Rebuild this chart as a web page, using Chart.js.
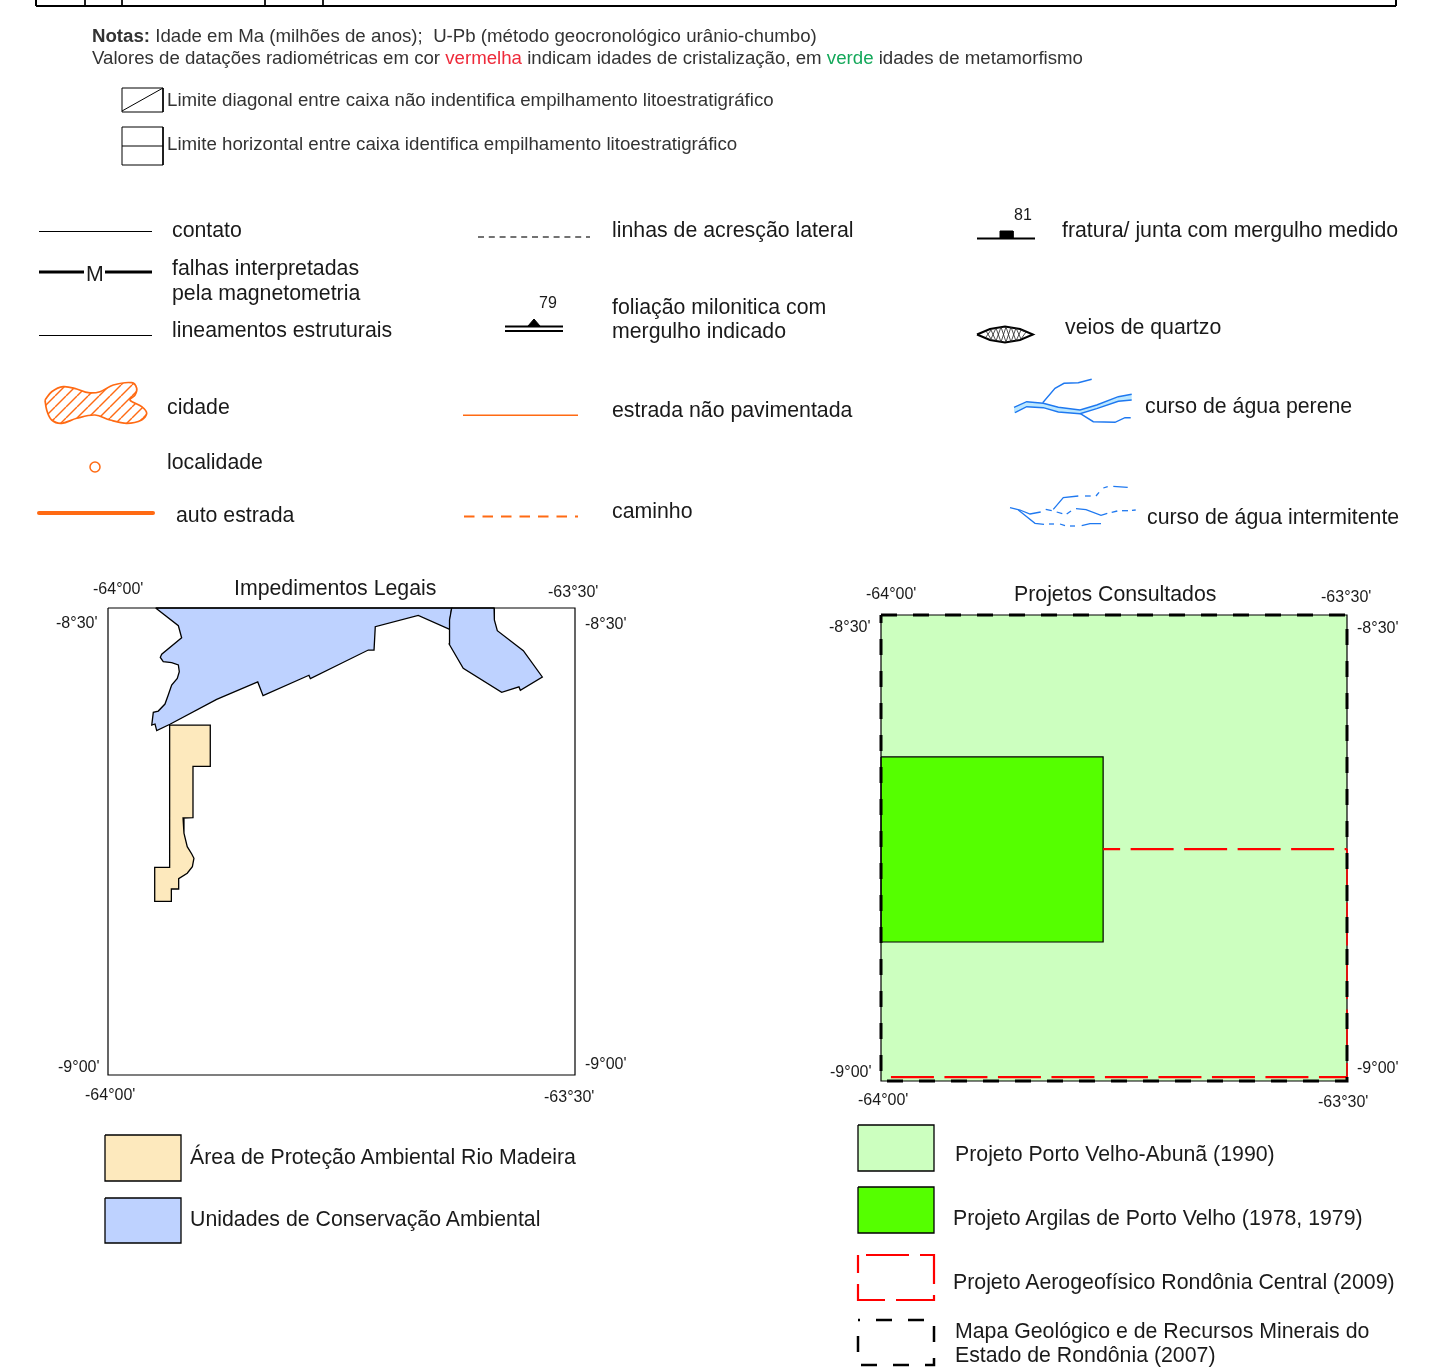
<!DOCTYPE html>
<html>
<head>
<meta charset="utf-8">
<title>Legenda</title>
<script src="https://cdn.jsdelivr.net/npm/chart.js@4"></script>
<style>
html, body { margin: 0; padding: 0; background: #fff; }
#page { position: relative; width: 1450px; height: 1369px; overflow: hidden; font-family: "Liberation Sans", Arial, sans-serif; color: #1a1a1a; }
canvas { position: absolute; }
.t { position: absolute; white-space: nowrap; line-height: 1; transform: translateY(-50%); }
</style>
</head>
<body>
<div id="page">
  <canvas id="sheet" width="1450" height="1369" style="left:0;top:0"></canvas>
  <canvas id="mapLeft" width="487" height="487" style="left:98px;top:598px"></canvas>
  <canvas id="mapRight" width="486" height="486" style="left:871px;top:605px"></canvas>
</div>
<script>
// map outlines, [minutes east of 64W, minutes south of 8S30]
var ucaWest = [[3.06,0],[4.52,1.14],[4.73,1.91],[3.45,2.97],[3.36,3.17],[3.55,3.45],[4.09,3.51],[4.52,3.66],[4.58,4.09],[4.45,4.52],[4.09,4.95],[3.87,5.59],[3.66,6.17],[3.23,6.62],[2.91,6.70],[2.81,7.52],[3.02,7.45],[3.13,7.88],[3.98,7.47],[6.98,5.87],[9.62,4.75],[9.96,5.63],[12.91,4.32],[13.0,4.54],[14.9,3.6],[16.72,2.7],[17.09,2.7],[17.17,1.2],[19.93,0.47],[21.91,1.35],[21.97,0.77],[22.08,0]];
var ucaEast = [[22.08,0],[24.8,0],[24.82,0.77],[25.01,1.46],[26.68,2.74],[27.9,4.43],[26.49,5.29],[26.4,5.07],[25.29,5.42],[22.82,3.87],[21.92,2.33],[21.91,1.35],[21.97,0.77]];
var apaMadeira = [[3.96,7.52],[6.57,7.52],[6.57,10.17],[5.46,10.17],[5.46,13.47],[4.82,13.49],[4.88,14.47],[5.09,15.33],[5.38,15.8],[5.52,16.08],[5.42,16.62],[5.09,17.04],[4.54,17.39],[4.54,18.05],[4.07,18.05],[4.07,18.84],[3.0,18.84],[3.0,16.66],[3.96,16.66]];
var mapFrame = [[0,0],[30,0],[30,30],[0,30]];
var argilas = [[0,9.14],[14.3,9.14],[14.3,21.05],[0,21.05]];
var aeroLine1 = [[14.3,15.07],[30,15.07]];
var aeroLine2 = [[0.64,29.75],[30,29.75]];
var aeroLine3 = [[30,15.07],[30,29.75]];

// sheet symbols
var cidade = [[45,400],[51.7,391.7],[63.3,386.7],[76.7,389],[88.3,392.7],[100,391.7],[113.3,385],[131.7,382.7],[136.7,388.3],[135,395],[130,400],[141.7,406.7],[146.7,413.3],[141.7,420],[126.7,423.3],[110,420],[95,415],[76.7,418.3],[61.7,423.3],[51.7,420],[46.7,410]];
var margemNorte = [[1014,407.3],[1026.7,401.7],[1043.3,403.3],[1058.3,407.3],[1080,410],[1096.7,405],[1118.3,396.7],[1131.7,394.3]];
var margemSul = [[1015,412.7],[1026.7,406.7],[1043.3,407.7],[1058.3,412],[1080,413.7],[1096.7,408.7],[1118.3,401.3],[1131.7,400]];
var afluentes = [
  [[1042.7,402.7],[1055,388.3],[1064,383.3],[1078.3,382.7],[1091.7,379.3]],
  [[1080,413.3],[1093.3,421.7],[1115,422.3],[1125,417.7],[1130.7,417.7]]
];
var intermitente = [
  [[1010,507.7],[1020,510],[1030,514],[1040.7,512]],
  [[1018.3,510],[1035,523.3],[1044,524.3]],
  [[1049,524],[1054,524]],
  [[1060,524],[1065,525.7]],
  [[1070,526],[1075,526]],
  [[1081.7,525.7],[1090,523.7],[1101,523.7]],
  [[1045.7,509.3],[1051.7,510.7]],
  [[1053.3,509.3],[1063.3,497.7],[1078.3,496]],
  [[1085,496],[1090.7,496]],
  [[1096,496],[1099,492.3]],
  [[1103.3,488],[1107.7,486.7]],
  [[1113.3,486.3],[1127.7,487.3]],
  [[1056.7,512],[1062.3,513.7]],
  [[1066.7,514],[1071,511]],
  [[1076,508.7],[1086,509.7],[1101,515.3],[1107.3,513.3]],
  [[1111.7,512.3],[1117.3,511]],
  [[1122,510.7],[1128,510.7]],
  [[1132,510.3],[1135.7,510]]
];
var veioContorno = [[977,334.5],[990,329],[1005,326.5],[1020,329],[1033,334.5],[1020,340],[1005,342.5],[990,340]];
var veioTrama = [[986,331],[991,339],[996,328],[1001,342],[1006,327],[1011,342],[1016,328],[1021,339],[1026,332],[1021,330],[1016,341],[1011,327],[1006,342],[1001,327],[996,341],[991,330],[986,337]];
var tickRows = [85,122,265,323];

// [text, x, y centre, size]
var labels = [
  ["Limite diagonal entre caixa não indentifica empilhamento litoestratigráfico",167,100,18.7,"#333"],
  ["Limite horizontal entre caixa identifica empilhamento litoestratigráfico",167,144,18.7,"#333"],
  ["contato",172,231,21.3],
  ["falhas interpretadas",172,269,21.3],
  ["pela magnetometria",172,294,21.3],
  ["lineamentos estruturais",172,331,21.3],
  ["cidade",167,408,21.3],
  ["localidade",167,463,21.3],
  ["auto estrada",176,516,21.3],
  ["M",86,275,21.3],
  ["linhas de acresção lateral",612,231,21.3],
  ["79",539,303,16],
  ["foliação milonitica com",612,308,21.3],
  ["mergulho indicado",612,332,21.3],
  ["estrada não pavimentada",612,411,21.3],
  ["caminho",612,512,21.3],
  ["81",1014,215,16],
  ["fratura/ junta com mergulho medido",1062,231,21.3],
  ["veios de quartzo",1065,328,21.3],
  ["curso de água perene",1145,407,21.3],
  ["curso de água intermitente",1147,518,21.3],
  ["Impedimentos Legais",234,589,21.3],
  ["Projetos Consultados",1014,595,21.3],
  ["Área de Proteção Ambiental Rio Madeira",190,1158,21.3],
  ["Unidades de Conservação Ambiental",190,1220,21.3],
  ["Projeto Porto Velho-Abunã (1990)",955,1155,21.3],
  ["Projeto Argilas de Porto Velho (1978, 1979)",953,1219,21.3],
  ["Projeto Aerogeofísico Rondônia Central (2009)",953,1283,21.3],
  ["Mapa Geológico e de Recursos Minerais do",955,1332,21.3],
  ["Estado de Rondônia (2007)",955,1356,21.3]
];
var coordLabels = [
  ["-64°00'",93,588],["-63°30'",548,591],["-8°30'",56,622],["-8°30'",585,623],["-9°00'",58,1066],["-9°00'",585,1063],["-64°00'",85,1094],["-63°30'",544,1096],
  ["-64°00'",866,593],["-63°30'",1321,596],["-8°30'",829,626],["-8°30'",1357,627],["-9°00'",830,1071],["-9°00'",1357,1067],["-64°00'",858,1099],["-63°30'",1318,1101]
];

var page = document.getElementById("page");
function addText(txt, x, y, size, color) {
  var el = document.createElement("div");
  el.className = "t";
  el.style.left = x + "px";
  el.style.top = y + "px";
  el.style.fontSize = size + "px";
  if (color) el.style.color = color;
  el.innerHTML = txt;
  page.appendChild(el);
}
labels.forEach(function (l) { addText(l[0], l[1], l[2], l[3], l[4]); });
coordLabels.forEach(function (l) { addText(l[0], l[1], l[2] + 0.5, 16); });
addText('<b>Notas:</b> Idade em Ma (milhões de anos);&nbsp; U-Pb (método geocronológico urânio-chumbo)', 92, 36, 18.66, "#333");
addText('Valores de datações radiométricas em cor <span style="color:#ee2a3a">vermelha</span> indicam idades de cristalização, em <span style="color:#14a85a">verde</span> idades de metamorfismo', 92, 58, 18.66, "#333");

function pts(list) {
  return list.map(function (p) { return { x: p[0], y: p[1] }; });
}
function line(list, color, width, extra) {
  return Object.assign({ data: pts(list), borderColor: color, borderWidth: width, showLine: true, pointRadius: 0, fill: false, clip: false }, extra || {});
}
function shape(list, fillColor, color, width, extra) {
  var closed = list.concat([list[0]]);
  return line(closed, color, width, Object.assign({ fill: "shape", backgroundColor: fillColor }, extra || {}));
}
function rect(x0, y0, x1, y1) {
  return [[x0,y0],[x1,y0],[x1,y1],[x0,y1]];
}
function hatch() {
  var c = document.createElement("canvas");
  c.width = 11; c.height = 11;
  var g = c.getContext("2d");
  g.strokeStyle = "#ff6a13";
  g.lineWidth = 1.4;
  [-11, 0, 11].forEach(function (o) {
    g.beginPath();
    g.moveTo(o, 11);
    g.lineTo(o + 11, 0);
    g.stroke();
  });
  return g.createPattern(c, "repeat");
}
function baseOptions(xMin, xMax, yMin, yMax, pad) {
  return {
    responsive: false,
    animation: false,
    events: [],
    layout: { padding: pad, autoPadding: false },
    plugins: { legend: { display: false }, tooltip: { enabled: false } },
    scales: {
      x: { type: "linear", display: false, min: xMin, max: xMax },
      y: { type: "linear", display: false, min: yMin, max: yMax, reverse: true }
    }
  };
}

var ORANGE = "#ff6a13", BLUE = "#1e78f0", BLACK = "#000";
var sheet = [
  // table edge at the top
  line([[36,6],[1396,6]], BLACK, 2),
  line([[36,0],[36,6]], BLACK, 2),
  line([[1396,0],[1396,6]], BLACK, 2)
];
tickRows.forEach(function (x) { sheet.push(line([[x,0],[x,7]], BLACK, 1)); });
sheet.push(
  shape(rect(122,88,163,112), "rgba(0,0,0,0)", BLACK, 1),
  line([[122,111],[163,88]], BLACK, 1),
  shape(rect(122,127,163,165), "rgba(0,0,0,0)", BLACK, 1),
  line([[122,146],[163,146]], BLACK, 1),
  line([[39,231.5],[152,231.5]], BLACK, 1),
  line([[39,272],[84,272]], BLACK, 3),
  line([[105,272],[152,272]], BLACK, 3),
  line([[39,335.5],[152,335.5]], BLACK, 1),
  shape(cidade, hatch(), ORANGE, 1.7, { tension: 0.35 }),
  { data: pts([[95,467]]), pointRadius: 5, pointBorderColor: ORANGE, pointBackgroundColor: "#fff", pointBorderWidth: 1.5, showLine: false },
  line([[39,513],[153,513]], ORANGE, 4, { borderCapStyle: "round" }),
  line([[478,237],[590,237]], "#444", 1.3, { borderDash: [6,4.8] }),
  shape([[528,326],[534,319],[540,326]], BLACK, BLACK, 1),
  line([[505,326.5],[563,326.5]], BLACK, 2),
  line([[505,331],[563,331]], BLACK, 2),
  line([[463,415.3],[578,415.3]], ORANGE, 1.4),
  line([[464,516.5],[578,516.5]], ORANGE, 2, { borderDash: [10.5,8] }),
  line([[977,238.5],[1035,238.5]], BLACK, 2),
  shape(rect(1000,231,1013,238), BLACK, BLACK, 1),
  line(veioTrama, "#222", 0.8),
  shape(veioContorno, "rgba(0,0,0,0)", BLACK, 2),
  line(margemNorte, BLUE, 1.4),
  line(margemSul, BLUE, 1.4),
  shape(margemNorte.concat(margemSul.slice().reverse()), "#bce8ff", "rgba(0,0,0,0)", 0)
);
afluentes.forEach(function (a) { sheet.push(line(a, BLUE, 1.4)); });
intermitente.forEach(function (a) { sheet.push(line(a, BLUE, 1.3)); });
sheet.push(
  shape(rect(105,1135,181,1181), "#fde9bd", BLACK, 1.3),
  shape(rect(105,1198,181,1243), "#bed2ff", BLACK, 1.3),
  shape(rect(858,1125,934,1171), "#ccffbf", BLACK, 1.3),
  shape(rect(858,1187,934,1233), "#55ff00", BLACK, 1.3),
  shape(rect(858,1255,934,1300), "rgba(0,0,0,0)", "#f00", 2.2, { borderDash: [43,11], borderDashOffset: 46 }),
  shape(rect(858,1320,934,1365), "rgba(0,0,0,0)", BLACK, 2.5, { borderDash: [16,16], borderDashOffset: 14 })
);

new Chart(document.getElementById("sheet"), {
  type: "scatter",
  data: { datasets: sheet },
  options: baseOptions(0, 1450, 0, 1369, 0)
});

new Chart(document.getElementById("mapLeft"), {
  type: "scatter",
  data: { datasets: [
    shape(mapFrame, "rgba(0,0,0,0)", BLACK, 1.2),
    shape(ucaEast, "#bed2ff", BLACK, 1.3),
    shape(ucaWest, "#bed2ff", BLACK, 1.3),
    shape(apaMadeira, "#fde9bd", BLACK, 1.3)
  ] },
  options: baseOptions(0, 30, 0, 30, 10)
});

new Chart(document.getElementById("mapRight"), {
  type: "scatter",
  data: { datasets: [
    shape(mapFrame, "rgba(0,0,0,0)", BLACK, 3, { borderDash: [16,16] }),
    line(aeroLine1, "#f00", 2.4, { borderDash: [43,10.5], borderDashOffset: 26 }),
    line(aeroLine2, "#f00", 2.4, { borderDash: [43,10.5] }),
    line(aeroLine3, "#f00", 1.6, { borderDash: [43,10.5] }),
    shape(mapFrame, "rgba(0,0,0,0)", BLACK, 1.2),
    shape(argilas, "#55ff00", BLACK, 1.2),
    shape(mapFrame, "#ccffbf", "#ccffbf", 0)
  ] },
  options: baseOptions(0, 30, 0, 30, 10)
});
</script>
</body>
</html>
